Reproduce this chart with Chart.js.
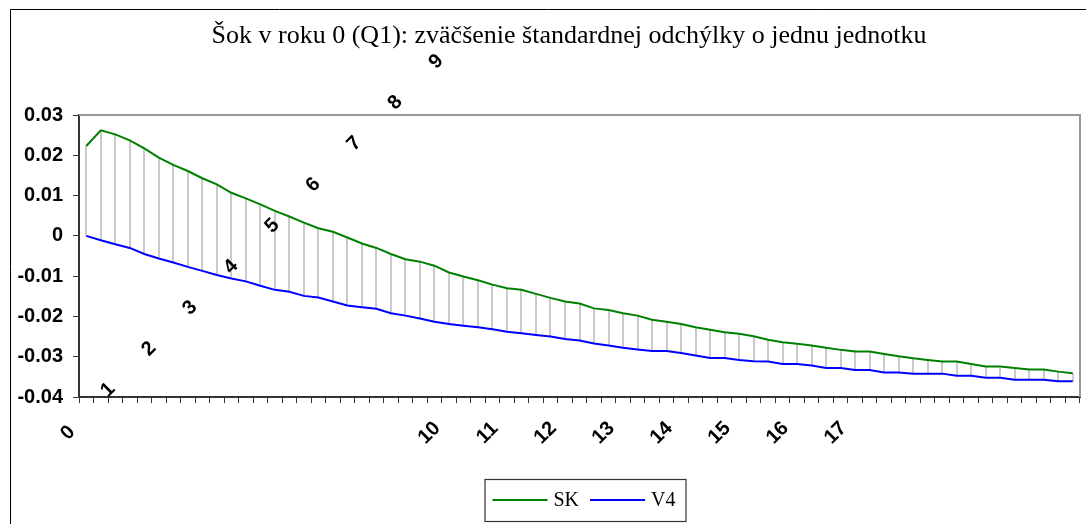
<!DOCTYPE html>
<html>
<head>
<meta charset="utf-8">
<script src="https://cdn.jsdelivr.net/npm/chart.js@4.4.0/dist/chart.umd.min.js"></script>
<style>
  html, body { margin: 0; padding: 0; background: #fff; overflow: hidden; }
  #wrap { position: absolute; left: 0; top: 0; width: 1086px; height: 524px; }
</style>
</head>
<body>
<div id="wrap"><canvas id="chart"></canvas></div>
<script>
// years after the shock, one point per quarter
const years = ['0', '1', '2', '3', '4', '5', '6', '7', '8', '9', '10', '11', '12', '13', '14', '15', '16', '17'];

const sk = [
  0.0223, 0.0262, 0.0252, 0.0237, 0.0217, 0.0194, 0.0176, 0.0161, 0.0143, 0.0128,
  0.0107, 0.0093, 0.0078, 0.0062, 0.0048, 0.0033, 0.0019, 0.0010, -0.0004, -0.0019,
  -0.0030, -0.0045, -0.0058, -0.0064, -0.0074, -0.0091, -0.0101, -0.0110, -0.0121, -0.0130,
  -0.0134, -0.0144, -0.0154, -0.0163, -0.0168, -0.0180, -0.0184, -0.0192, -0.0198, -0.0208,
  -0.0213, -0.0219, -0.0227, -0.0233, -0.0239, -0.0243, -0.0249, -0.0258, -0.0264, -0.0268,
  -0.0272, -0.0278, -0.0283, -0.0287, -0.0287, -0.0293, -0.0299, -0.0304, -0.0308, -0.0312,
  -0.0312, -0.0318, -0.0324, -0.0324, -0.0328, -0.0332, -0.0332, -0.0337, -0.0341
];

const v4 = [
  0.0000, -0.0011, -0.0021, -0.0030, -0.0045, -0.0056, -0.0066, -0.0077, -0.0087, -0.0097,
  -0.0106, -0.0113, -0.0124, -0.0134, -0.0139, -0.0149, -0.0153, -0.0163, -0.0173, -0.0177,
  -0.0181, -0.0192, -0.0198, -0.0205, -0.0213, -0.0219, -0.0223, -0.0227, -0.0232, -0.0238,
  -0.0242, -0.0246, -0.0250, -0.0256, -0.0260, -0.0267, -0.0272, -0.0278, -0.0282, -0.0286,
  -0.0286, -0.0291, -0.0297, -0.0303, -0.0303, -0.0308, -0.0311, -0.0312, -0.0318, -0.0318,
  -0.0322, -0.0328, -0.0328, -0.0333, -0.0333, -0.0339, -0.0339, -0.0342, -0.0342, -0.0342,
  -0.0347, -0.0347, -0.0352, -0.0352, -0.0357, -0.0357, -0.0357, -0.0361, -0.0361
];

const yTicks = [-0.04, -0.03, -0.02, -0.01, 0, 0.01, 0.02, 0.03];

const title = 'Šok v roku 0 (Q1): zväčšenie štandardnej odchýlky o jednu jednotku';

// one category per quarter, the year written on the first quarter
const labels = [];
years.forEach((y, i) => {
  labels.push(y);
  if (i < years.length - 1) labels.push('', '', '');
});

const sansBold = 'bold 20px "Liberation Sans", Arial, sans-serif';
const serif = '"Liberation Serif", "Times New Roman", serif';

// chart frame, title and the gray border round the plot area
const frame = {
  id: 'frame',
  beforeDraw(chart) {
    const ctx = chart.ctx;
    ctx.save();
    ctx.strokeStyle = '#000';
    ctx.lineWidth = 1;
    ctx.beginPath();
    ctx.moveTo(10.5, chart.height);
    ctx.lineTo(10.5, 9.5);
    ctx.lineTo(chart.width, 9.5);
    ctx.stroke();
    ctx.font = '26px ' + serif;
    ctx.fillStyle = '#000';
    ctx.textAlign = 'center';
    ctx.textBaseline = 'middle';
    ctx.fillText(title, 569, 36);
    ctx.restore();
  },
  afterDatasetsDraw(chart) {
    const { ctx, chartArea: a } = chart;
    ctx.save();
    ctx.strokeStyle = '#999';
    ctx.lineWidth = 2;
    ctx.beginPath();
    ctx.moveTo(a.left, a.top);
    ctx.lineTo(a.right, a.top);
    ctx.lineTo(a.right, a.bottom);
    ctx.stroke();
    ctx.restore();
  }
};

// vertical high-low lines between the two series
const dropLines = {
  id: 'dropLines',
  beforeDatasetsDraw(chart) {
    const { ctx, scales: { x, y } } = chart;
    ctx.save();
    ctx.strokeStyle = '#bdbdbd';
    ctx.lineWidth = 1.6;
    sk.forEach((v, i) => {
      const px = Math.round(x.getPixelForValue(i));
      ctx.beginPath();
      ctx.moveTo(px, y.getPixelForValue(v));
      ctx.lineTo(px, y.getPixelForValue(v4[i]));
      ctx.stroke();
    });
    ctx.restore();
  }
};

// year labels, rotated 45 degrees
const yearLabels = {
  id: 'yearLabels',
  afterDraw(chart) {
    const { ctx, scales: { x } } = chart;
    const step = x.getPixelForValue(4) - x.getPixelForValue(0);
    const diag = step * Math.SQRT1_2;
    ctx.save();
    ctx.font = sansBold;
    ctx.fillStyle = '#000';
    ctx.textAlign = 'center';
    ctx.textBaseline = 'middle';
    years.forEach((t, k) => {
      let px, py;
      if (k === 0) {
        px = x.left - 11; py = x.top + 36;
      } else if (k < 10) {
        px = x.left - 12 + k * diag; py = x.top + 34 - k * diag;
      } else {
        px = x.getPixelForValue(4 * (k - 4)) - 5; py = x.top + 36;
      }
      ctx.save();
      ctx.translate(px, py);
      ctx.rotate(-Math.PI / 4);
      ctx.fillText(t, 0, 0);
      ctx.restore();
    });
    ctx.restore();
  }
};

// boxed legend under the plot
const boxLegend = {
  id: 'boxLegend',
  afterDraw(chart) {
    const { ctx, chartArea: a } = chart;
    const cx = (a.left + a.right) / 2 + 5;
    const left = cx - 100, top = 479, w = 201, h = 42;
    ctx.save();
    ctx.fillStyle = '#fff';
    ctx.fillRect(left, top, w, h);
    ctx.strokeStyle = '#333';
    ctx.lineWidth = 1.2;
    ctx.strokeRect(left + 0.5, top + 0.5, w, h);
    ctx.font = '20px ' + serif;
    ctx.textBaseline = 'middle';
    ctx.fillStyle = '#000';
    let px = left + 8;
    chart.data.datasets.forEach(ds => {
      ctx.strokeStyle = ds.borderColor;
      ctx.lineWidth = 2;
      ctx.beginPath();
      ctx.moveTo(px, top + 21);
      ctx.lineTo(px + 55, top + 21);
      ctx.stroke();
      ctx.fillText(ds.label, px + 61, top + 22);
      px += 61 + ctx.measureText(ds.label).width + 11;
    });
    ctx.restore();
  }
};

new Chart(document.getElementById('chart'), {
  type: 'line',
  data: {
    labels: labels,
    datasets: [
      { label: 'SK', data: sk, borderColor: '#008000', borderWidth: 2, pointRadius: 0, tension: 0 },
      { label: 'V4', data: v4, borderColor: '#0000ff', borderWidth: 2, pointRadius: 0, tension: 0 }
    ]
  },
  options: {
    responsive: true,
    maintainAspectRatio: false,
    animation: false,
    events: [],
    layout: { padding: { top: 115, right: 6, left: 0, bottom: 0 } },
    plugins: {
      legend: { display: false },
      tooltip: { enabled: false },
      title: { display: false }
    },
    scales: {
      x: {
        type: 'category',
        offset: true,
        grid: { display: true, offset: true, drawOnChartArea: false, drawTicks: true, tickLength: 6, color: '#333', lineWidth: 1 },
        border: { display: true, color: '#333', width: 2 },
        ticks: { display: false, autoSkip: false },
        afterFit: s => { s.height = 127; }
      },
      y: {
        min: -0.04,
        max: 0.03,
        afterBuildTicks: s => { s.ticks = yTicks.map(v => ({ value: v })); },
        grid: { display: true, drawOnChartArea: false, drawTicks: true, tickLength: 6, color: '#333' },
        border: { display: true, color: '#333', width: 2 },
        ticks: {
          color: '#000',
          font: { family: '"Liberation Sans", Arial, sans-serif', size: 20, weight: 'bold' },
          padding: 10,
          callback: v => String(Math.round(v * 100) / 100)
        },
        afterFit: s => { s.width = 79; }
      }
    }
  },
  plugins: [frame, dropLines, yearLabels, boxLegend]
});
</script>
</body>
</html>
